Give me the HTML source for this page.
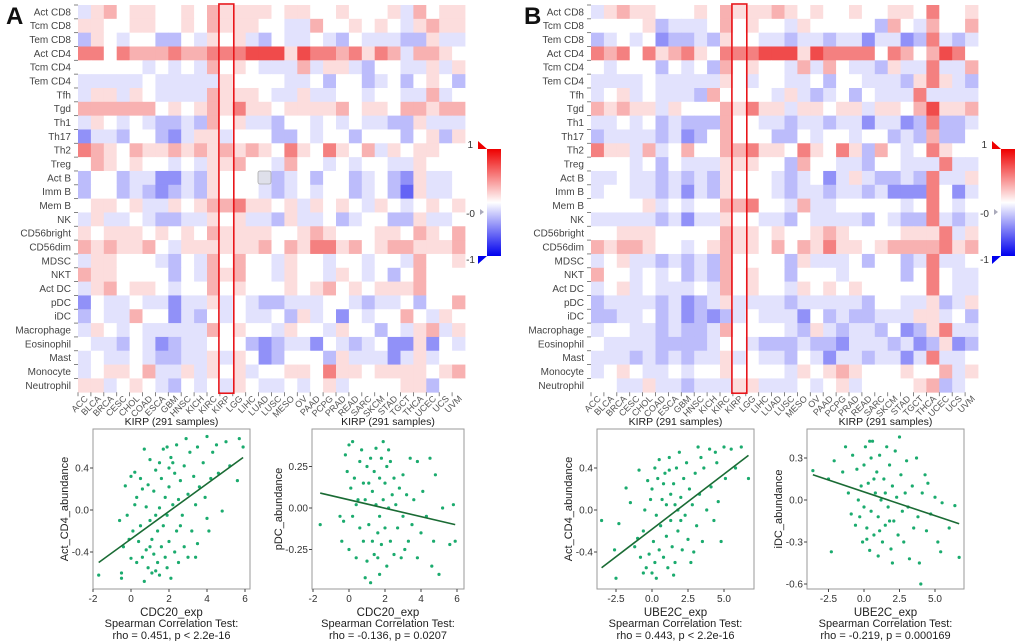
<!DOCTYPE html>
<html><head><meta charset="utf-8">
<style>
html,body{margin:0;padding:0;background:#fff;}
svg{display:block;font-family:"Liberation Sans",sans-serif;}
</style></head>
<body>
<svg id="fig" width="1020" height="641" viewBox="0 0 1020 641">
<text x="6" y="24" font-size="24" font-weight="bold" fill="#111">A</text>
<text x="524" y="24" font-size="24" font-weight="bold" fill="#111">B</text>
<g id="layer"></g>
</svg>
<script>
const rowNames=["Act CD8","Tcm CD8","Tem CD8","Act CD4","Tcm CD4","Tem CD4","Tfh","Tgd","Th1","Th17","Th2","Treg","Act B","Imm B","Mem B","NK","CD56bright","CD56dim","MDSC","NKT","Act DC","pDC","iDC","Macrophage","Eosinophil","Mast","Monocyte","Neutrophil"];
const cancers=["ACC","BLCA","BRCA","CESC","CHOL","COAD","ESCA","GBM","HNSC","KICH","KIRC","KIRP","LGG","LIHC","LUAD","LUSC","MESO","OV","PAAD","PCPG","PRAD","READ","SARC","SKCM","STAD","TGCT","THCA","UCEC","UCS","UVM"];
// levels 0..8, 4 = zero correlation
const heatA=[
"356455445465555455445444536455",
"554455445465554433644545435655",
"254344224354532433432433322533",
"774766676677788858776757636654",
"444443434364543336355324433535",
"333334333335444433424423424542",
"355354333365554335334434433634",
"666666454565755455556455466566",
"354343223264533244343433225333",
"133244213553444224344244424525",
"765465565656565475475463545544",
"465454434355644364434344335444",
"244233113254443234244234215334",
"244232123254443234344234205334",
"455453354566755453545435434545",
"353343223354533253342344225334",
"545554545465555445654445546546",
"656556435555556465775645665556",
"355444324364644354434434436445",
"655444424365644354435434246444",
"356455434464544454564545556444",
"143343313353432233344323342446",
"243364413243433425341434464354",
"354343333364544354435442435635",
"433243123344421233143234115143",
"343343223353541244425333135344",
"345546335354534455475545555456",
"553454324343543343453444455244"];
const heatB=[
"356554445465556545445445547445",
"444452333464544354444426436446",
"234341223254433233233133127323",
"767475675477788858777747646874",
"434442434264544363643325337336",
"333343333354344334244333257532",
"345343332644443532342433373333",
"656553544465755355455355468556",
"334342322264433233233133127223",
"233332312464442243443442326224",
"755363464466755475475264347544",
"444342433355544264433244333733",
"334332323254443234135322327335",
"344332313254443233233231117413",
"444453434466744363344444347434",
"333332313354433243333243227323",
"445554444465545445654444555735",
"656654434565546465755456666756",
"345332323264444253334244237334",
"644343423264544244434444247433",
"345343334364544354545444447433",
"233332312353333233333244335235",
"223342312123433314232233355342",
"344332322364444325323324125733",
"433332222344322232213332312512",
"333232323353433243133233137334",
"345433434454444354565444544635",
"443353323335533343453444456234"];
const colorA="#1bab6e";
const a1X=[-1.7,-0.6,-0.5,-0.5,-0.4,-0.3,-0.2,-0.1,0,0,0.1,0.2,0.2,0.3,0.3,0.4,0.5,0.6,0.6,0.7,0.7,0.8,0.8,0.9,0.9,1.0,1.0,1.1,1.1,1.2,1.2,1.3,1.3,1.4,1.4,1.5,1.5,1.6,1.6,1.7,1.7,1.8,1.8,1.9,1.9,2.0,2.0,2.1,2.1,2.2,2.2,2.3,2.3,2.4,2.4,2.5,2.5,2.6,2.7,2.8,2.8,2.9,3.0,3.0,3.1,3.2,3.3,3.4,3.5,3.5,3.6,3.8,3.9,4.0,4.0,4.2,4.3,4.5,4.6,4.8,5.0,5.2,5.6,5.7,5.9,1.5,2.0,1.0,2.6,1.3,3.4,0.5,4.1,1.9];
const a1Y=[-0.62,-0.1,-0.6,-0.65,-0.35,0.23,-0.05,-0.28,0.32,-0.46,-0.2,0.36,0.05,-0.5,0.12,-0.3,-0.15,0.2,-0.45,-0.68,0.58,0.03,-0.38,0.24,-0.55,0.48,-0.1,-0.28,-0.6,0.18,-0.42,-0.05,0.38,-0.5,-0.2,0.02,-0.62,0.3,-0.35,0.58,-0.15,-0.45,0.12,-0.05,-0.55,0.22,-0.3,0.5,-0.65,0.45,0.05,-0.4,0.35,0.62,-0.2,0.1,-0.5,0.28,-0.05,0.42,-0.35,0.68,0.15,-0.45,0.55,-0.2,0.32,0.05,0.6,-0.32,0.22,0.45,0.12,0.7,-0.08,0.3,0.55,0.62,0.35,-0.01,0.65,0.42,0.28,0.68,0.6,0.45,0.4,-0.35,-0.15,-0.58,-0.45,0.3,-0.2,0.6];
const a1LineX=[-1.7,5.9], a1LineY=[-0.5,0.5];
const a2X=[-1.6,-0.5,-0.4,-0.3,-0.2,-0.1,0,0,0.1,0.2,0.2,0.3,0.4,0.5,0.6,0.6,0.7,0.8,0.8,0.9,0.9,1.0,1.0,1.1,1.2,1.2,1.3,1.3,1.4,1.4,1.5,1.5,1.6,1.6,1.7,1.7,1.8,1.8,1.9,1.9,2.0,2.0,2.1,2.1,2.2,2.2,2.3,2.4,2.5,2.5,2.6,2.7,2.8,2.9,3.0,3.0,3.2,3.3,3.4,3.5,3.6,3.8,3.8,4.0,4.1,4.3,4.5,4.6,4.7,4.8,5.0,5.2,5.6,5.8,5.9,1.1,2.3,1.7,0.4,3.1];
const a2Y=[-0.1,-0.05,-0.2,-0.08,0.32,0.22,0.38,-0.25,0.12,0.4,-0.05,0.18,-0.3,0.05,0.28,-0.12,0.35,-0.2,0.15,-0.42,0.05,0.25,-0.32,-0.1,0.3,-0.45,0.1,-0.2,0.22,-0.28,0.02,0.36,-0.15,-0.3,0.18,-0.05,0.3,-0.22,0.05,0.4,-0.12,0.15,-0.35,0.25,0.0,0.35,-0.2,0.08,0.18,-0.28,0.02,-0.12,0.12,-0.3,0.2,-0.05,0.08,-0.2,0.3,-0.1,0.05,-0.3,0.28,-0.15,0.1,-0.05,0.3,-0.35,-0.2,0.2,-0.4,0.0,-0.22,0.02,-0.2,0.15,0.28,-0.4,0.02,-0.25];
const a2LineX=[-1.6,5.9], a2LineY=[0.09,-0.10];
const b1X=[-3.5,-2.6,-2.5,-2.3,-1.8,-1.5,-1.2,-1.0,-0.9,-0.8,-0.6,-0.5,-0.4,-0.3,-0.2,-0.1,0,0,0.1,0.2,0.2,0.3,0.4,0.5,0.5,0.6,0.7,0.8,0.9,1.0,1.0,1.1,1.2,1.3,1.3,1.4,1.5,1.6,1.7,1.8,1.8,1.9,2.0,2.1,2.2,2.3,2.4,2.5,2.6,2.7,2.8,3.0,3.1,3.2,3.3,3.5,3.6,3.8,4.0,4.1,4.3,4.5,4.6,4.8,5.0,5.1,5.5,5.8,6.2,6.7,0.3,1.5,0.8,2.0,1.2,3.4,2.9,-0.6,4.4,1.6];
const b1Y=[-0.1,-0.38,-0.65,-0.13,0.21,0.07,-0.35,-0.27,0.38,-0.45,-0.2,0.0,-0.55,0.28,-0.42,0.1,-0.6,0.2,-0.3,0.4,-0.5,-0.05,0.3,-0.38,0.48,-0.15,0.1,-0.45,0.35,-0.25,0.05,-0.55,0.5,0.15,-0.1,-0.35,0.25,-0.5,0.4,0.0,-0.2,0.55,0.12,-0.38,0.3,-0.05,0.45,-0.28,0.2,-0.5,0.05,0.35,-0.15,0.6,0.15,-0.3,0.4,0.0,0.58,0.22,-0.1,0.45,0.08,-0.3,0.6,0.3,0.58,0.4,0.6,0.3,-0.65,-0.62,0.25,-0.1,0.38,0.5,-0.4,-0.6,0.55,0.05];
const b1LineX=[-3.5,6.7], b1LineY=[-0.55,0.52];
const b2X=[-3.6,-2.5,-2.3,-2.1,-1.5,-1.3,-1.1,-0.9,-0.8,-0.6,-0.5,-0.4,-0.3,-0.2,-0.1,0,0,0.1,0.2,0.3,0.4,0.5,0.5,0.6,0.7,0.8,0.9,1.0,1.0,1.1,1.2,1.3,1.4,1.5,1.6,1.7,1.8,1.9,2.0,2.0,2.1,2.2,2.3,2.4,2.5,2.6,2.7,2.8,3.0,3.1,3.2,3.4,3.5,3.7,3.8,4.0,4.1,4.3,4.4,4.5,4.7,5.0,5.2,5.4,5.5,6.0,6.4,6.7,0.7,1.5,0.2,1.8,2.9,1.1,0.4,3.9];
const b2Y=[0.21,0.15,-0.37,0.28,0.2,0.38,0.05,-0.1,0.32,-0.18,0.22,0.0,-0.12,0.1,-0.3,0.25,-0.05,0.38,-0.2,0.12,-0.36,0.3,-0.08,0.42,-0.25,0.05,0.2,-0.4,-0.12,0.32,0.0,-0.3,0.15,-0.18,0.38,-0.05,0.25,-0.35,0.1,-0.45,-0.15,0.35,0.02,-0.25,0.45,0.18,-0.08,-0.3,0.28,-0.05,-0.42,0.1,-0.2,0.3,-0.12,-0.6,0.05,0.18,-0.22,0.12,-0.1,0.02,-0.3,-0.37,-0.02,-0.2,-0.04,-0.41,0.15,0.05,-0.28,-0.15,0.05,-0.22,0.42,-0.45];
const b2LineX=[-3.6,6.7], b2LineY=[0.18,-0.17];

const NS="http://www.w3.org/2000/svg";
const layer=document.getElementById('layer');
function mk(tag,attrs,parent){const e=document.createElementNS(NS,tag);for(const k in attrs)e.setAttribute(k,attrs[k]);(parent||layer).appendChild(e);return e;}
function lvColor(v){const r=(v-4)/4;
 const f=Math.pow(Math.abs(r),1.2);
 if(r>=0){return `rgb(${Math.round(255-15*f)},${Math.round(255-180*f)},${Math.round(255-180*f)})`;}
 return `rgb(${Math.round(255-155*f)},${Math.round(255-155*f)},${Math.round(255-10*f)})`;}

function heatmap(data,x0,boxCol,tag){
 const y0=5,cw=12.9,rh=13.83;
 const g=mk('g',{});
 
 
 data.forEach((row,ri)=>{
  for(let ci=0;ci<cancers.length;ci++){
   const v=+row[ci];
   const c=mk('rect',{x:x0+ci*cw,y:y0+ri*rh,width:cw+0.4,height:rh+0.4,fill:lvColor(v)},g);
   
   
  }
  const t=mk('text',{x:x0-7,y:y0+ri*rh+rh/2+3.5,'font-size':10,'text-anchor':'end',fill:'#444'},g);
  t.textContent=rowNames[ri];
  
  
  mk('line',{x1:x0-4,x2:x0,y1:y0+ri*rh,y2:y0+ri*rh,stroke:'#666','stroke-width':0.8},g);
 });
 const yb=y0+rh*rowNames.length;
 cancers.forEach((c,ci)=>{
  const cx=x0+ci*cw+cw/2;
  mk('line',{x1:x0+ci*cw,x2:x0+ci*cw,y1:yb,y2:yb+4,stroke:'#666','stroke-width':0.8},g);
  const t=mk('text',{x:cx+4,y:yb+7,'font-size':9,'text-anchor':'end',fill:'#555',transform:`rotate(-45 ${cx+4} ${yb+7})`},g);
  t.textContent=c;
  
  
 });
 const b=mk('rect',{x:x0+boxCol*cw-1,y:y0-1,width:cw+2,height:yb-y0+2,fill:'none',stroke:'#e8161b','stroke-width':1.6},g);
 
 
}
heatmap(heatA,78,11,'a');
heatmap(heatB,591,11,'b');

const art=mk('rect',{x:258,y:171,width:13,height:13,fill:'#dfe0ea',stroke:'#aaa','stroke-width':0.8,rx:2});



function colorbar(x,tag){
 const g=mk('g',{});
 
 
 const defs=mk('defs',{},g);
 const lg=mk('linearGradient',{id:'cb'+tag,x1:0,y1:0,x2:0,y2:1},defs);
 mk('stop',{offset:'0',   'stop-color':'#ee0000'},lg);
 mk('stop',{offset:'0.5', 'stop-color':'#ffffff'},lg);
 mk('stop',{offset:'1',   'stop-color':'#0000ee'},lg);
 mk('rect',{x:x,y:149,width:14,height:107,fill:`url(#cb${tag})`},g);
 mk('polygon',{points:`${x-9},141 ${x-9},149 ${x},149`,fill:'#e00'},g);
 mk('polygon',{points:`${x-9},264 ${x-9},256 ${x},256`,fill:'#00e'},g);
 const t1=mk('text',{x:x-14,y:148,'font-size':10,fill:'#333','text-anchor':'end'},g);t1.textContent='1';
 const t2=mk('text',{x:x-12,y:217,'font-size':10,fill:'#333','text-anchor':'end'},g);t2.textContent='-0';
 mk('polygon',{points:`${x-7},209 ${x-7},215 ${x-3},212`,fill:'#aab'},g);
 const t3=mk('text',{x:x-12,y:263,'font-size':10,fill:'#333','text-anchor':'end'},g);t3.textContent='-1';
}
colorbar(487,'a');
colorbar(1001,'b');

function scatter(o){
 const g=mk('g',{});
 
 
 const sx=v=>o.x0+o.kx*v, sy=v=>o.y0-o.ky*v;
 const tt=mk('text',{x:(o.l+o.r)/2,y:425,'font-size':10.5,'text-anchor':'middle',fill:'#222'},g);
 tt.textContent='KIRP (291 samples)';
 
 
 mk('rect',{x:o.l,y:429,width:o.r-o.l,height:160,fill:'#fff',stroke:'#9a9a9a','stroke-width':1},g);
 o.xs.forEach((v,i)=>{
  const p=mk('circle',{cx:sx(v),cy:sy(o.ys[i]),r:1.6,fill:colorA},g);
  
  
 });
 const ln=mk('line',{x1:sx(o.lx[0]),y1:sy(o.ly[0]),x2:sx(o.lx[1]),y2:sy(o.ly[1]),stroke:'#1a6b34','stroke-width':1.6},g);
 
 
 o.xt.forEach(v=>{
  const px=sx(+v);
  mk('line',{x1:px,x2:px,y1:589,y2:592,stroke:'#444'},g);
  const t=mk('text',{x:px,y:602,'font-size':10,'text-anchor':'middle',fill:'#333'},g);t.textContent=v;
 });
 o.yt.forEach(v=>{
  const py=sy(+v);
  mk('line',{x1:o.l-3,x2:o.l,y1:py,y2:py,stroke:'#444'},g);
  const t=mk('text',{x:o.l-4,y:py+3.5,'font-size':10,'text-anchor':'end',fill:'#333'},g);t.textContent=v;
 });
 const yl=mk('text',{x:o.ylx,y:509,'font-size':11,'text-anchor':'middle',fill:'#222',transform:`rotate(-90 ${o.ylx} 509)`},g);
 yl.textContent=o.ylab;
 
 
 const cx=(o.l+o.r)/2;
 const xl=mk('text',{x:cx,y:616,'font-size':11.5,'text-anchor':'middle',fill:'#222'},g);xl.textContent=o.xlab;
 
 
 const s1=mk('text',{x:cx,y:627,'font-size':11,'text-anchor':'middle',fill:'#222'},g);s1.textContent='Spearman Correlation Test:';
 
 
 const s2=mk('text',{x:cx,y:639,'font-size':11,'text-anchor':'middle',fill:'#222'},g);s2.textContent=o.stat;
 
 
}
scatter({tag:'a1',l:93,r:250,x0:131,kx:19,y0:510,ky:105,xs:a1X,ys:a1Y,lx:a1LineX,ly:a1LineY,xt:['-2','0','2','4','6'],yt:['0.4','0.0','-0.4'],ylab:'Act_CD4_abundance',ylx:68,xlab:'CDC20_exp',stat:'rho = 0.451, p < 2.2e-16'});
scatter({tag:'a2',l:312,r:464,x0:349,kx:18,y0:508,ky:166,xs:a2X,ys:a2Y,lx:a2LineX,ly:a2LineY,xt:['-2','0','2','4','6'],yt:['0.25','0.00','-0.25'],ylab:'pDC_abundance',ylx:282,xlab:'CDC20_exp',stat:'rho = -0.136, p = 0.0207'});
scatter({tag:'b1',l:597,r:754,x0:652,kx:14.4,y0:510,ky:105,xs:b1X,ys:b1Y,lx:b1LineX,ly:b1LineY,xt:['-2.5','0.0','2.5','5.0'],yt:['0.4','0.0','-0.4'],ylab:'Act_CD4_abundance',ylx:572,xlab:'UBE2C_exp',stat:'rho = 0.443, p < 2.2e-16'});
scatter({tag:'b2',l:807,r:964,x0:864,kx:14.2,y0:500,ky:140,xs:b2X,ys:b2Y,lx:b2LineX,ly:b2LineY,xt:['-2.5','0.0','2.5','5.0'],yt:['0.3','0.0','-0.3','-0.6'],ylab:'iDC_abundance',ylx:782,xlab:'UBE2C_exp',stat:'rho = -0.219, p = 0.000169'});
</script>
</body></html>
